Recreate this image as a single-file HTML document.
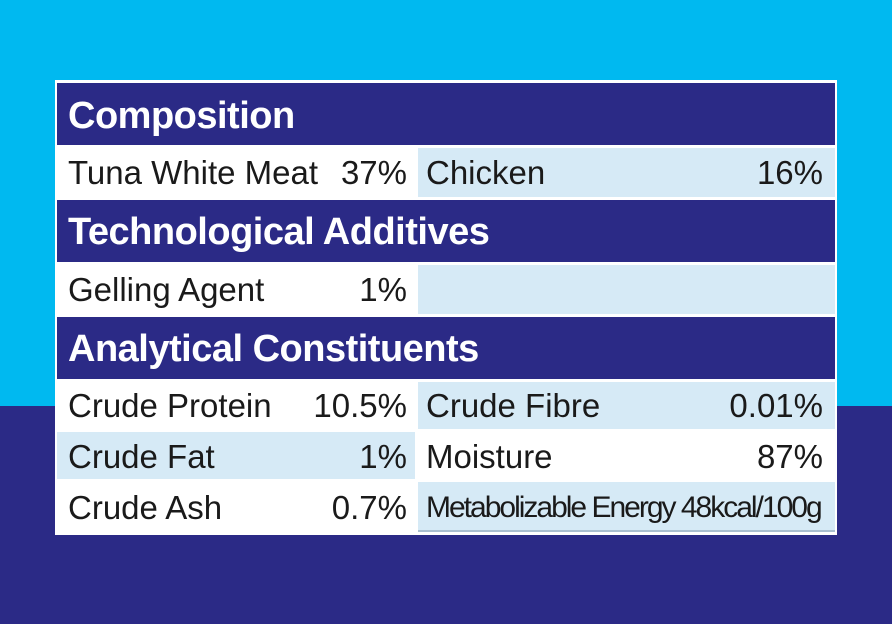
<!DOCTYPE html>
<html><head><style>
body{margin:0;width:892px;height:624px;position:relative;overflow:hidden;background:#2b2a86;font-family:"Liberation Sans",sans-serif}
#top{position:absolute;left:0;top:0;width:892px;height:406px;background:#00b9f0}
#t{position:absolute;left:55px;top:80px;width:782px;height:455px;background:#fff}
.c{position:absolute;box-sizing:border-box;color:#1a1a1a;font-size:33px;line-height:1;white-space:nowrap}
.h{background:#2b2a86;color:#fff;font-weight:bold;font-size:38px;letter-spacing:-0.5px;padding-left:11px}
.b{background:#d6eaf6}
.l{position:absolute;left:11px;letter-spacing:0px}
.r{position:absolute;right:8px;letter-spacing:0px}
</style></head><body>
<div id="top"></div>
<div id="t"></div>
<div class="c h" style="left:57px;top:83px;width:778px;height:62px;padding-top:14px">Composition</div>
<div class="c" style="left:57px;top:148px;width:358px;height:49px"><span class="l" style="top:8px">Tuna White Meat</span><span class="r" style="top:8px">37%</span></div>
<div class="c b" style="left:418px;top:148px;width:417px;height:49px"><span class="l" style="top:8px;left:8px">Chicken</span><span class="r" style="top:8px;right:12px">16%</span></div>
<div class="c h" style="left:57px;top:200px;width:778px;height:62px;padding-top:13px">Technological Additives</div>
<div class="c" style="left:57px;top:265px;width:358px;height:49px"><span class="l" style="top:8px">Gelling Agent</span><span class="r" style="top:8px">1%</span></div>
<div class="c b" style="left:418px;top:265px;width:417px;height:49px"></div>
<div class="c h" style="left:57px;top:317px;width:778px;height:62px;padding-top:13px">Analytical Constituents</div>
<div class="c" style="left:57px;top:382px;width:358px;height:47px"><span class="l" style="top:7px">Crude Protein</span><span class="r" style="top:7px">10.5%</span></div>
<div class="c b" style="left:418px;top:382px;width:417px;height:47px"><span class="l" style="top:7px;left:8px">Crude Fibre</span><span class="r" style="top:7px;right:12px">0.01%</span></div>
<div class="c b" style="left:57px;top:432px;width:358px;height:47px"><span class="l" style="top:8px">Crude Fat</span><span class="r" style="top:8px">1%</span></div>
<div class="c" style="left:418px;top:432px;width:417px;height:47px"><span class="l" style="top:8px;left:8px">Moisture</span><span class="r" style="top:8px;right:12px">87%</span></div>
<div class="c" style="left:57px;top:482px;width:358px;height:50px"><span class="l" style="top:9px">Crude Ash</span><span class="r" style="top:9px">0.7%</span></div>
<div class="c b" style="left:418px;top:482px;width:417px;height:50px;border-bottom:2px solid #a9bfd0"><span class="l" style="top:11px;left:8px;font-size:30px;letter-spacing:-2px">Metabolizable Energy 48kcal/100g</span></div>
</body></html>
